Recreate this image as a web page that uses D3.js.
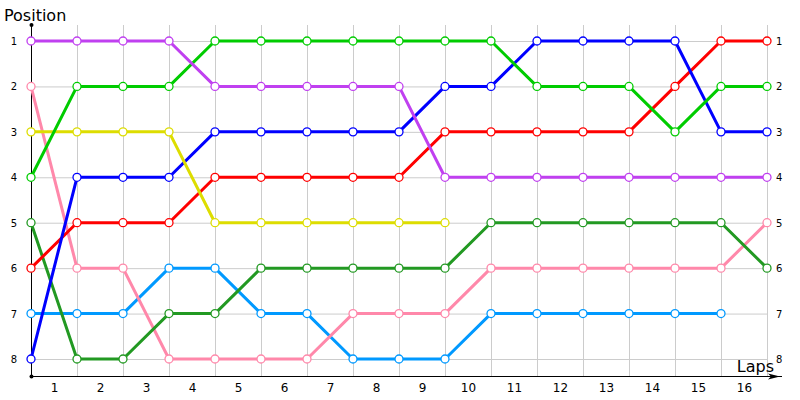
<!DOCTYPE html>
<html><head><meta charset="utf-8">
<script src="https://cdn.jsdelivr.net/npm/d3@7/dist/d3.min.js"></script>
<style>body{margin:0;background:#fff}svg{display:block}text{font-family:"DejaVu Sans",Verdana,sans-serif}</style>
</head><body><svg id="c" width="800" height="400"></svg>
<script>
const laps = d3.range(0, 17);
const lapLabels = d3.range(1, 17);
const positions = [1,2,3,4,5,6,7,8];
const colors = ["#0099ff","#ff88aa","#229922","#ff0000","#0000ff","#dddd00","#00cc00","#c040f0"];
const lightBlue = [7,7,7,6,6,7,7,8,8,8,7,7,7,7,7,7];
const pink      = [2,6,6,8,8,8,8,7,7,7,6,6,6,6,6,6,5];
const darkGreen = [5,8,8,7,7,6,6,6,6,6,5,5,5,5,5,5,6];
const red       = [6,5,5,5,4,4,4,4,4,3,3,3,3,3,2,1,1];
const blue      = [8,4,4,4,3,3,3,3,3,2,2,1,1,1,1,3,3];
const yellow    = [3,3,3,3,5,5,5,5,5,5];
const green     = [4,2,2,2,1,1,1,1,1,1,1,2,2,2,3,2,2];
const purple    = [1,1,1,1,2,2,2,2,2,4,4,4,4,4,4,4,4];
const series = [lightBlue,pink,darkGreen,red,blue,yellow,green,purple];

const svg = d3.select("#c");
const x = d3.scaleLinear().domain([0,16]).range([31,767]);
const y = d3.scaleLinear().domain([1,8]).range([41,359]);
const yTop = 25, yBot = 376;

// grid
const g = svg.append("g");
g.selectAll("line.v").data(laps).enter().append("line")
  .attr("x1", d=>x(d)+0.5).attr("x2", d=>x(d)+0.5).attr("y1", yTop).attr("y2", yBot)
  .attr("stroke","#cccccc");
g.selectAll("line.h").data(positions).enter().append("line")
  .attr("x1", x(0)).attr("x2", x(16)).attr("y1", d=>y(d)+0.5).attr("y2", d=>y(d)+0.5)
  .attr("stroke","#cccccc");

// axes
svg.append("line").attr("x1",x(0)+0.5).attr("x2",x(0)+0.5).attr("y1",yTop).attr("y2",yBot).attr("stroke","#000");
svg.append("line").attr("x1",x(0)).attr("x2",782).attr("y1",yBot+0.5).attr("y2",yBot+0.5).attr("stroke","#000");
svg.append("circle").attr("cx",x(0)+0.5).attr("cy",yTop).attr("r",2).attr("fill","#000");
svg.append("circle").attr("cx",x(0)+0.5).attr("cy",yBot+0.5).attr("r",2).attr("fill","#000");
svg.append("path").attr("d",`M780,${yBot+0.5} l-12,-3 l3,3 l-3,3 z`).attr("fill","#000");

// y labels
svg.selectAll("text.yl").data(positions).enter().append("text")
  .attr("x",17).attr("y",d=>y(d)+4).attr("text-anchor","end").attr("font-size",10).text(d=>d);
svg.selectAll("text.yr").data(positions).enter().append("text")
  .attr("x",776).attr("y",d=>y(d)+4).attr("font-size",10).text(d=>d);
// x labels
svg.selectAll("text.xl").data(lapLabels).enter().append("text")
  .attr("x",d=>(x(d-1)+x(d))/2+0.5).attr("y",392).attr("text-anchor","middle").attr("font-size",12).text(d=>d);

svg.append("text").attr("x",4).attr("y",21).attr("font-size",16).text("Position");
svg.append("text").attr("x",774).attr("y",372).attr("text-anchor","end").attr("font-size",16).text("Laps");

// series
const line = d3.line().x((d,i)=>x(i)).y(d=>y(d));
series.forEach((s,k)=>{
  svg.append("path").datum(s).attr("d",line).attr("fill","none")
    .attr("stroke",colors[k]).attr("stroke-width",3).attr("stroke-linejoin","round");
});
series.forEach((s,k)=>{
  svg.append("g").selectAll("circle").data(s).enter().append("circle")
    .attr("cx",(d,i)=>x(i)).attr("cy",d=>y(d)).attr("r",4)
    .attr("fill","#fff").attr("stroke",colors[k]).attr("stroke-width",1.3);
});
</script></body></html>
